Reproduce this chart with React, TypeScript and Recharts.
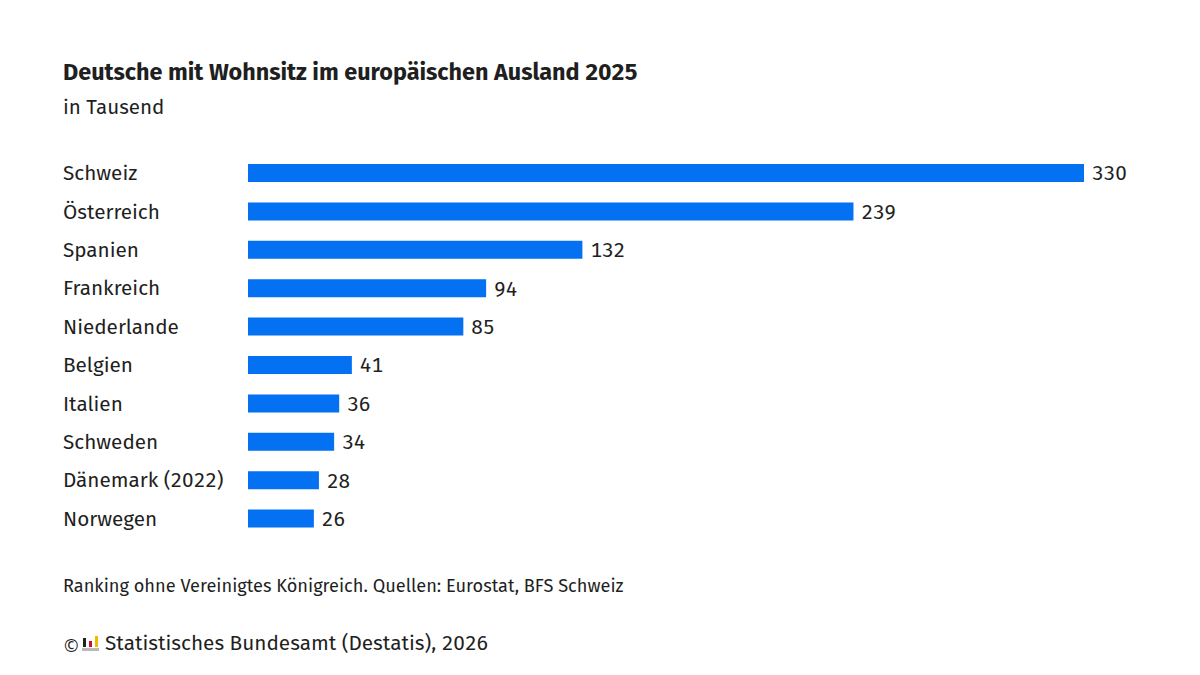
import React from "react";
import { BarChart, Bar, XAxis, YAxis, LabelList } from "recharts";

const countries = ["Schweiz", "Österreich", "Spanien", "Frankreich", "Niederlande", "Belgien", "Italien", "Schweden", "Dänemark (2022)", "Norwegen"];
const values = [330, 239, 132, 94, 85, 41, 36, 34, 28, 26];

const data = countries.map((name, i) => ({ name, value: values[i] }));

const font = "'Fira Sans', 'Noto Sans', sans-serif";
const textColor = "#1f1f1f";
const tabular = { fontVariantNumeric: "tabular-nums" };

function CountryTick({ y, payload }: any) {
  return (
    <text x={63} y={y + 7} fontSize={20.7} fill={textColor} fontFamily={font} style={tabular}>
      {payload.value}
    </text>
  );
}

// kleines Destatis-Logo in der Fusszeile
function Logo() {
  return (
    <svg width={17} height={16} viewBox="0 0 17 16" style={{ position: "absolute", left: 82, top: 636 }}>
      <rect x={1} y={2} width={3} height={9} fill="#222" />
      <rect x={7} y={5} width={3} height={6} fill="#c8102e" />
      <rect x={13} y={0} width={3} height={11} fill="#f2b800" />
      <rect x={0} y={12} width={17} height={3} fill="#b9b9b9" />
    </svg>
  );
}

export default function App() {
  return (
    <div style={{ position: "absolute", left: 0, top: 0, width: 1200, height: 675, background: "#fff", fontFamily: font, color: textColor, ...tabular }}>
      <div style={{ position: "absolute", left: 63, top: 58, fontSize: 23.4, fontWeight: 700, whiteSpace: "nowrap" }}>
        Deutsche mit Wohnsitz im europäischen Ausland 2025
      </div>
      <div style={{ position: "absolute", left: 63, top: 95, fontSize: 20.6, whiteSpace: "nowrap" }}>in Tausend</div>

      <div style={{ position: "absolute", left: 0, top: 154 }}>
        <BarChart width={1200} height={384} data={data} layout="vertical" margin={{ top: 0, right: 116, bottom: 0, left: 0 }} barCategoryGap="26%">
          <XAxis type="number" hide domain={[0, 330]} />
          <YAxis type="category" dataKey="name" width={248} axisLine={false} tickLine={false} tick={<CountryTick />} interval={0} />
          <Bar dataKey="value" fill="#0470f2" isAnimationActive={false}>
            <LabelList dataKey="value" position="right" offset={8} fontSize={20.7} fill={textColor} fontFamily={font} style={tabular} />
          </Bar>
        </BarChart>
      </div>

      <div style={{ position: "absolute", left: 63, top: 575, fontSize: 18.2, whiteSpace: "nowrap" }}>
        Ranking ohne Vereinigtes Königreich. Quellen: Eurostat, BFS Schweiz
      </div>
      <div style={{ position: "absolute", left: 64, top: 632, fontSize: 17.5, lineHeight: "26px", whiteSpace: "nowrap", fontFamily: "'Noto Sans', sans-serif" }}>©</div>
      <Logo />
      <div style={{ position: "absolute", left: 105, top: 631, fontSize: 20.75, whiteSpace: "nowrap" }}>
        Statistisches Bundesamt (Destatis), 2026
      </div>
    </div>
  );
}
